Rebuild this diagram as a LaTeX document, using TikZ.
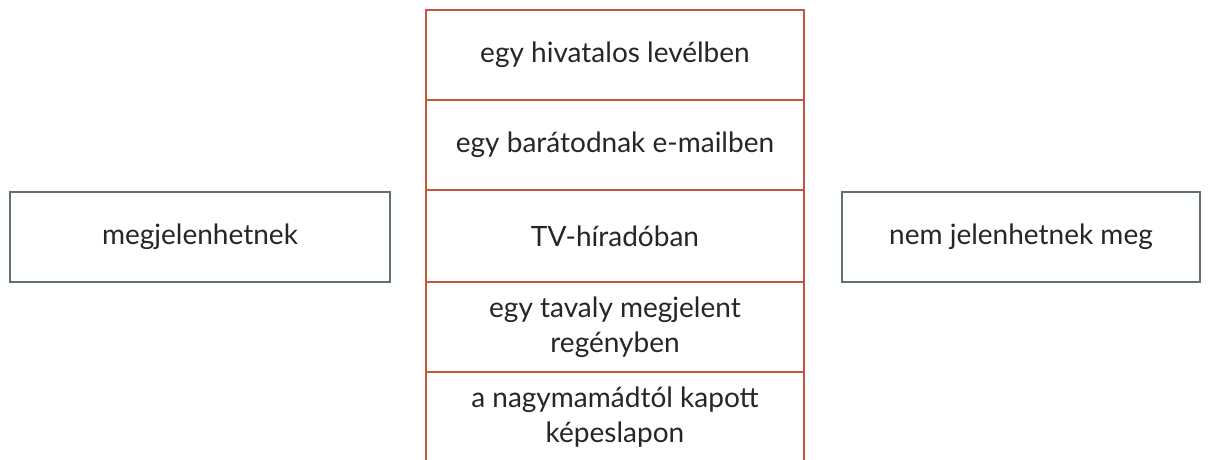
\documentclass[tikz,border=0pt]{standalone}
\usepackage{fontspec}
\setmainfont{Lato}
\usetikzlibrary{positioning}
\definecolor{rowred}{HTML}{C8553D}
\definecolor{sidegreen}{HTML}{5B7467}
\tikzset{
  label text/.style={font=\fontsize{28}{35}\selectfont, text=black!85, align=center},
  rowbox/.style={draw=rowred, line width=2.6pt, minimum width=378pt, minimum height=90pt, inner sep=0pt, label text},
  sidebox/.style={draw=sidegreen, line width=2.6pt, minimum height=90pt, inner sep=0pt, label text}
}
\begin{document}
\begin{tikzpicture}[x=1pt,y=1pt]
  \useasboundingbox (0,0) rectangle (1210,460);
  \node[rowbox] (levelben) at (615,405) {egy hivatalos levélben};
  \node[rowbox] (emailben) at (615,315) {egy barátodnak e-mailben};
  \node[rowbox, minimum height=92pt] (hirado) at (615,224) {TV-híradóban};
  \node[rowbox] (regeny) at (615,133) {egy tavaly megjelent\\regényben};
  \node[rowbox] (kepeslap) at (615,43) {a nagymamádtól kapott\\képeslapon};
  \node[sidebox, minimum width=380pt] (megjelen) at (200,223) {megjelenhetnek};
  \node[sidebox, minimum width=358pt] (nemjelen) at (1021,223) {nem jelenhetnek meg};
\end{tikzpicture}
\end{document}
